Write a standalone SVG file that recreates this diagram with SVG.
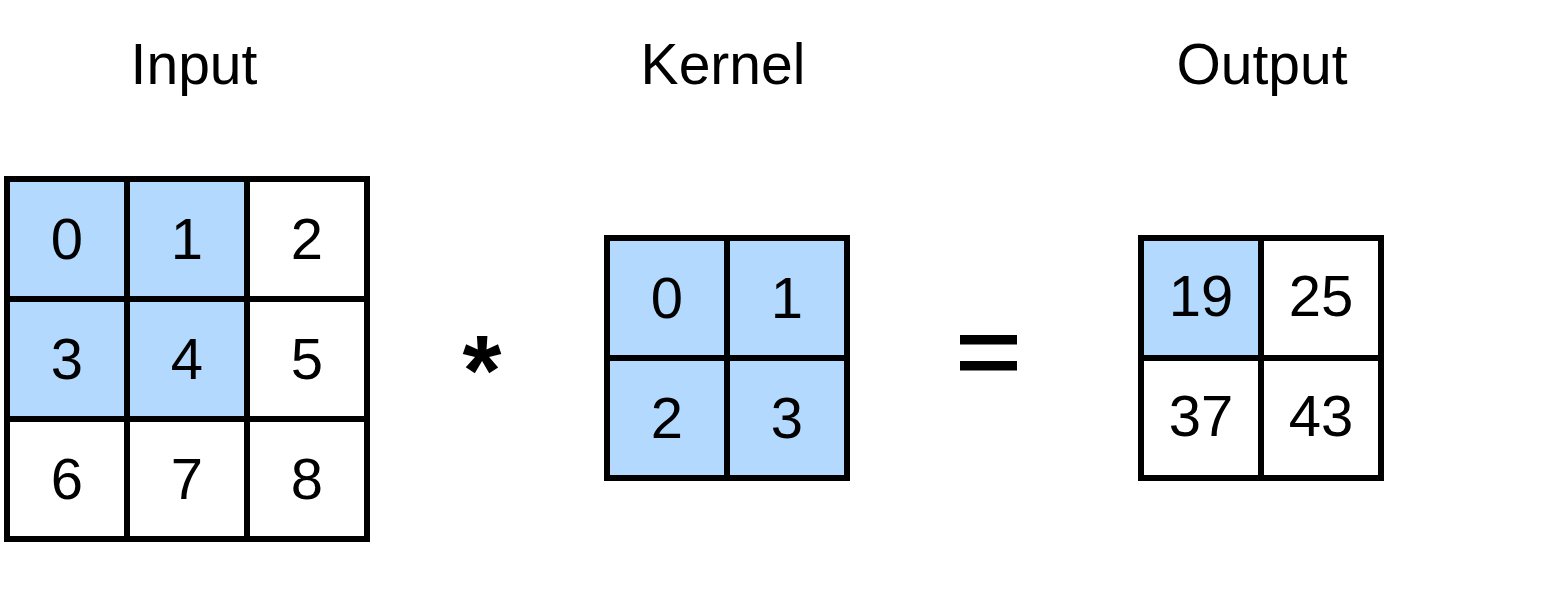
<svg xmlns="http://www.w3.org/2000/svg" width="1551" height="589" viewBox="0 0 1551 589">
<style>
.title{font-family:"Liberation Sans",Arial,sans-serif;font-size:57px;fill:#000;text-anchor:middle}
.num{font-family:"Liberation Sans",Arial,sans-serif;font-size:58px;fill:#000;text-anchor:middle}
.cell{stroke:#000;stroke-width:6;fill:#fff}
.hl{fill:#b3d9ff}
.op{font-family:"Liberation Sans",Arial,sans-serif;font-weight:bold;fill:#000;text-anchor:middle}
</style>
<rect width="1551" height="589" fill="#fff"/>
<g id="input">
<text class="title" x="194" y="84">Input</text>
<rect class="cell hl" x="7" y="179" width="120" height="120"/>
<rect class="cell hl" x="127" y="179" width="120" height="120"/>
<rect class="cell" x="247" y="179" width="120" height="120"/>
<rect class="cell hl" x="7" y="299" width="120" height="120"/>
<rect class="cell hl" x="127" y="299" width="120" height="120"/>
<rect class="cell" x="247" y="299" width="120" height="120"/>
<rect class="cell" x="7" y="419" width="120" height="120"/>
<rect class="cell" x="127" y="419" width="120" height="120"/>
<rect class="cell" x="247" y="419" width="120" height="120"/>
<text class="num" x="67" y="259">0</text>
<text class="num" x="187" y="259">1</text>
<text class="num" x="307" y="259">2</text>
<text class="num" x="67" y="379">3</text>
<text class="num" x="187" y="379">4</text>
<text class="num" x="307" y="379">5</text>
<text class="num" x="67" y="499">6</text>
<text class="num" x="187" y="499">7</text>
<text class="num" x="307" y="499">8</text>
</g>
<g id="star">
<text class="op" x="482" y="405" font-size="100">*</text>
</g>
<g id="kernel">
<text class="title" x="723" y="84">Kernel</text>
<rect class="cell hl" x="607" y="238" width="120" height="120"/>
<rect class="cell hl" x="727" y="238" width="120" height="120"/>
<rect class="cell hl" x="607" y="358" width="120" height="120"/>
<rect class="cell hl" x="727" y="358" width="120" height="120"/>
<text class="num" x="667" y="318">0</text>
<text class="num" x="787" y="318">1</text>
<text class="num" x="667" y="438">2</text>
<text class="num" x="787" y="438">3</text>
</g>
<g id="equals">
<rect x="960" y="335" width="57" height="9.5" fill="#000"/>
<rect x="960" y="361" width="57" height="9.5" fill="#000"/>
</g>
<g id="output">
<text class="title" x="1262" y="84">Output</text>
<rect class="cell hl" x="1141" y="238" width="120" height="120"/>
<rect class="cell" x="1261" y="238" width="120" height="120"/>
<rect class="cell" x="1141" y="358" width="120" height="120"/>
<rect class="cell" x="1261" y="358" width="120" height="120"/>
<text class="num" x="1201" y="316">19</text>
<text class="num" x="1321" y="316">25</text>
<text class="num" x="1201" y="436">37</text>
<text class="num" x="1321" y="436">43</text>
</g>
<g id="connectors"></g>
</svg>
